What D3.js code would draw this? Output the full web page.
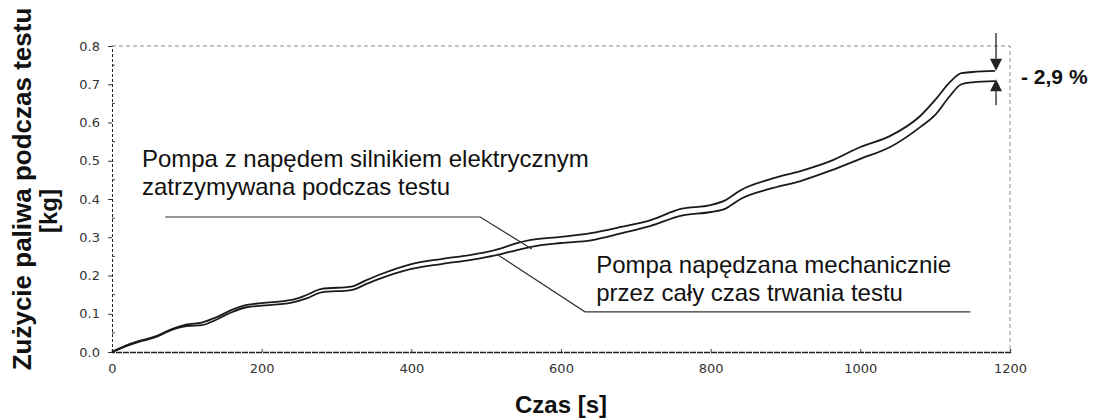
<!DOCTYPE html>
<html>
<head>
<meta charset="utf-8">
<script src="https://cdn.jsdelivr.net/npm/d3@7"></script>
<style>
  body { margin: 0; background: #fff; }
  svg { display: block; }
</style>
</head>
<body>
<div id="container"></div>
<script>
// time axis [s] and fuel used [kg]
const timeS = [0, 20, 40, 60, 80, 100, 120, 140, 160, 180, 200, 240, 260, 280, 320, 340, 360,
  400, 440, 480, 500, 520, 540, 560, 600, 640, 680, 720, 760, 800, 820, 840,
  880, 920, 960, 1000, 1040, 1080, 1100, 1120, 1135, 1150, 1180];
const mechanicalKg = [0, 0.018, 0.031, 0.042, 0.060, 0.072, 0.077, 0.091, 0.110, 0.123, 0.128, 0.136, 0.149, 0.165, 0.171, 0.188, 0.204,
  0.230, 0.243, 0.254, 0.261, 0.271, 0.284, 0.293, 0.301, 0.311, 0.327, 0.345, 0.374, 0.384, 0.397, 0.423,
  0.452, 0.473, 0.499, 0.536, 0.565, 0.617, 0.659, 0.706, 0.729, 0.732, 0.735];
const electricKg = [0, 0.016, 0.029, 0.040, 0.058, 0.068, 0.070, 0.085, 0.104, 0.117, 0.121, 0.129, 0.140, 0.156, 0.162, 0.178, 0.193,
  0.217, 0.230, 0.241, 0.248, 0.256, 0.266, 0.275, 0.285, 0.292, 0.310, 0.330, 0.356, 0.366, 0.375, 0.400,
  0.427, 0.447, 0.474, 0.505, 0.536, 0.588, 0.620, 0.670, 0.700, 0.705, 0.708];

const xTicks = [0, 200, 400, 600, 800, 1000, 1200];
const yTicks = [0, 0.1, 0.2, 0.3, 0.4, 0.5, 0.6, 0.7, 0.8];
const yMinorTicks = [0.05, 0.15, 0.25, 0.35, 0.45, 0.55, 0.65, 0.75];

// annotation labels, anchored in data units
const labelElectric = ["Pompa z napędem silnikiem elektrycznym", "zatrzymywana podczas testu"];
const leaderElectric = [[71, 0.353], [492, 0.353], [561, 0.269]];
const labelMechanical = ["Pompa napędzana mechanicznie", "przez cały czas trwania testu"];
const leaderMechanical = [[514, 0.256], [632, 0.105], [1147, 0.105]];
const diffLabel = "- 2,9 %";

const width = 1093;
const height = 419;
const marginTop = 46;
const marginRight = 83;
const marginBottom = 67;
const marginLeft = 112;

const x = d3.scaleLinear()
    .domain([0, 1200])
    .range([marginLeft, width - marginRight]);

const y = d3.scaleLinear()
    .domain([0, 0.8])
    .range([height - marginBottom, marginTop]);

const svg = d3.create("svg")
    .attr("width", width)
    .attr("height", height)
    .attr("viewBox", [0, 0, width, height])
    .style("font-family", "'Liberation Sans', Arial, sans-serif");

svg.append("rect").attr("width", width).attr("height", height).attr("fill", "#fff");

// dashed frame on the top and right
svg.append("path")
    .attr("d", `M${x(0)},${y(0.8)}H${x(1200)}V${y(0)}`)
    .attr("fill", "none")
    .attr("stroke", "#888")
    .attr("stroke-width", 1)
    .attr("stroke-dasharray", "4,3");

// x axis
svg.append("g")
    .attr("transform", `translate(0,${y(0)})`)
    .call(d3.axisBottom(x).tickValues(xTicks).tickSize(-3).tickPadding(12).tickFormat(d3.format("d")))
    .call(g => g.select(".domain").attr("stroke", "#222").attr("stroke-width", 1.3).attr("stroke-dasharray", "6,1"))
    .call(g => g.selectAll(".tick line").attr("stroke", "#444"))
    .call(g => g.selectAll(".tick text")
        .attr("fill", "#333")
        .style("font-family", "'DejaVu Sans', sans-serif")
        .style("font-size", "13px"));

// y axis
svg.append("g")
    .attr("transform", `translate(${x(0)},0)`)
    .call(d3.axisLeft(y).tickValues(yTicks).tickSizeOuter(0).tickSize(4).tickPadding(8).tickFormat(d3.format(".1f")))
    .call(g => g.select(".domain").attr("stroke", "#222").attr("stroke-dasharray", "3,2"))
    .call(g => g.selectAll(".tick line").attr("stroke", "#333"))
    .call(g => g.selectAll(".tick text")
        .attr("fill", "#333")
        .style("font-family", "'DejaVu Sans', sans-serif")
        .style("font-size", "13px"));

svg.append("g")
    .selectAll("line")
    .data(yMinorTicks)
    .join("line")
    .attr("x1", x(0)).attr("x2", x(0) + 3)
    .attr("y1", d => y(d)).attr("y2", d => y(d))
    .attr("stroke", "#444");

// the two curves
const line = d3.line()
    .x((d, i) => x(timeS[i]))
    .y(d => y(d))
    .curve(d3.curveMonotoneX);

svg.append("g")
    .attr("fill", "none")
    .attr("stroke", "#1a1a1a")
    .attr("stroke-width", 1.8)
    .attr("stroke-linejoin", "round")
  .selectAll("path")
  .data([mechanicalKg, electricKg])
  .join("path")
    .attr("d", line);

// leader lines
const leader = d3.line().x(d => x(d[0])).y(d => y(d[1]));
svg.append("g")
    .attr("fill", "none")
    .attr("stroke", "#333")
    .attr("stroke-width", 1.2)
  .selectAll("path")
  .data([leaderElectric, leaderMechanical])
  .join("path")
    .attr("d", leader);

function addLabel(lines, tx, baseline) {
  svg.append("text")
      .attr("x", tx)
      .attr("y", baseline)
      .attr("fill", "#111")
      .style("font-size", "24px")
    .selectAll("tspan")
    .data(lines)
    .join("tspan")
      .attr("x", tx)
      .attr("dy", (d, i) => i ? 28 : 0)
      .text(d => d);
}
addLabel(labelElectric, x(40), y(0.484));
addLabel(labelMechanical, x(647), y(0.206));

// -2,9 % difference marker at the end of the curves
const lastI = timeS.length - 1;
const ax = x(timeS[lastI]) + 1;
const yTop = y(mechanicalKg[lastI]);
const yBot = y(electricKg[lastI]);
const marker = svg.append("g").attr("stroke", "#222").attr("fill", "#222");
marker.append("line").attr("x1", ax).attr("x2", ax).attr("y1", y(0.8) - 13).attr("y2", yTop - 12).attr("stroke-width", 1.3);
marker.append("line").attr("x1", ax).attr("x2", ax).attr("y1", yBot + 10).attr("y2", yBot + 24).attr("stroke-width", 1.3);
marker.append("path").attr("d", `M${ax - 6},${yTop - 12}H${ax + 6}L${ax},${yTop}Z`).attr("stroke", "none");
marker.append("path").attr("d", `M${ax - 6},${yBot + 10}H${ax + 6}L${ax},${yBot - 2}Z`).attr("stroke", "none");

svg.append("text")
    .attr("x", ax + 25)
    .attr("y", (yTop + yBot) / 2 + 8)
    .attr("fill", "#111")
    .style("font-weight", "bold")
    .style("font-size", "21px")
    .text(diffLabel);

// axis titles
svg.append("text")
    .attr("x", (x(0) + x(1200)) / 2)
    .attr("y", 413)
    .attr("text-anchor", "middle")
    .attr("fill", "#111")
    .style("font-weight", "bold")
    .style("font-size", "24px")
    .text("Czas [s]");

svg.append("text")
    .attr("transform", "translate(31,189) rotate(-90)")
    .attr("text-anchor", "middle")
    .attr("fill", "#111")
    .style("font-weight", "bold")
    .style("font-size", "26px")
    .text("Zużycie paliwa podczas testu");

svg.append("text")
    .attr("transform", "translate(57,211) rotate(-90)")
    .attr("text-anchor", "middle")
    .attr("fill", "#111")
    .style("font-weight", "bold")
    .style("font-size", "24px")
    .text("[kg]");

container.append(svg.node());
</script>
</body>
</html>
